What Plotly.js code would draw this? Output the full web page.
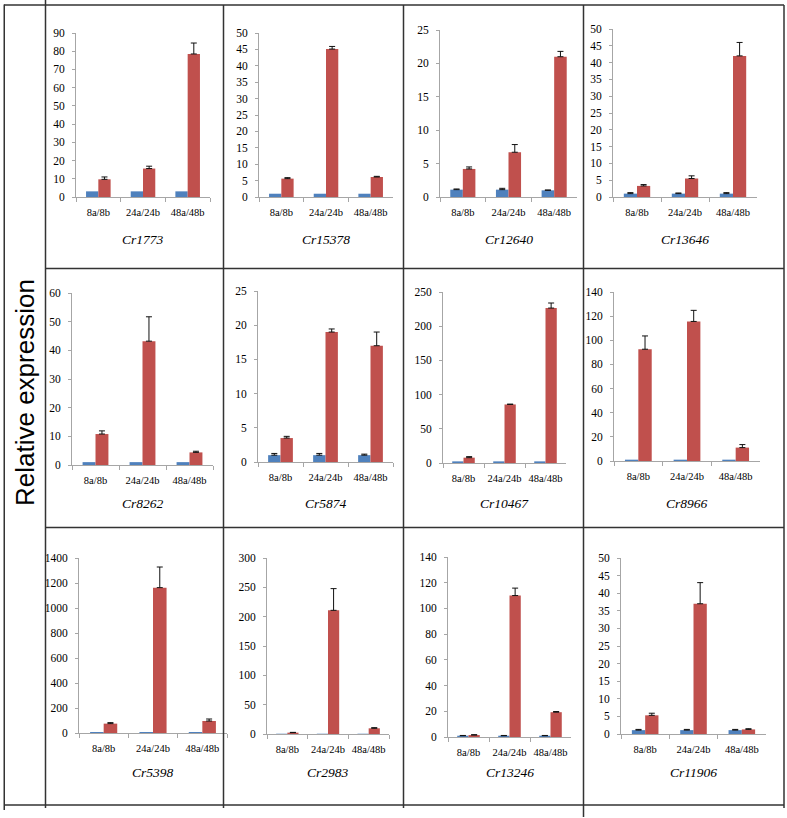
<!DOCTYPE html>
<html><head><meta charset="utf-8">
<script src="https://cdn.plot.ly/plotly-3.0.1.min.js"></script>
<style>html,body{margin:0;padding:0;background:#fff;overflow:hidden;} #chart{width:787px;height:818px;}</style>
</head><body><div id="chart"></div>
<script>
// ---------- data ----------
const categories = ['8a/8b', '24a/24b', '48a/48b'];
const genes = ['Cr1773','Cr15378','Cr12640','Cr13646','Cr8262','Cr5874','Cr10467','Cr8966','Cr5398','Cr2983','Cr13246','Cr11906'];
const blueValues = [
  [3.1,3.1,3.1],[1,1,1],[1.1,1.1,1.0],[1.0,1.0,1.0],
  [1,1,1],[1.0,1.0,1.0],[2.4,2.4,2.4],[1.1,1.1,1.1],
  [8,8,8],[0.5,0.5,0.5],[1,1,1],[1.1,1.1,1.1]
];
const blueErrors = [
  [0,0,0],[0,0,0],[0.1,0.2,0.05],[0.3,0.2,0.3],
  [0,0,0],[0.25,0.25,0.15],[0,0,0],[0,0,0],
  [0,0,0],[0,0,0],[0.2,0.2,0.2],[0.2,0.2,0.2]
];
const redValues = [
  [9.7,15.6,78.5],[5.6,45.1,6.1],[4.2,6.7,21.0],[3.3,5.5,42.0],
  [10.8,43.2,4.4],[3.5,19.0,17.0],[7.8,85.6,226.5],[92.6,115.6,11.1],
  [75,1163,96],[2.3,210.8,9.7],[1.5,110,19.3],[5.3,37.0,1.3]
];
const redErrors = [
  [1.3,1.3,6.0],[0.3,0.8,0.2],[0.3,1.15,0.8],[0.4,0.8,4.0],
  [1.1,8.5,0.4],[0.25,0.45,2.0],[1.5,0.5,7.4],[11,9.2,2.5],
  [8,165,16],[0.5,37,1.1],[0.3,5.8,0.5],[0.6,6.0,0.2]
];
const yMax  = [90,50,25,50, 60,25,250,140, 1400,300,140,50];
const yStep = [10,5,5,5, 10,5,50,20, 200,50,20,5];
const yLabel = 'Relative expression';

// ---------- layout geometry (pixels) ----------
const W = 787, H = 818;
// [xLeft, xRight, yTop, yBottom]
const panelBoxes = [
  [76,210,33,197],[259,393,33,197],[440,577,30,197],[613,757,29,197],
  [72,213,293,465],[258,393,291,462],[443,566,292,463],[614,760,292,461],
  [79,227,558,733],[267,389,558,734],[448,571,557,737],[621,766,558,734]
];
const geneLabelY = [239,239,239,239, 504,504,504,504, 772,772,772,772];

const px = x => x / W;
const py = y => 1 - y / H;

const blue = '#4F81BD', red = '#C0504D';
const serif = '"Liberation Serif", "Times New Roman", serif';

const data = [];
const layout = {
  width: W, height: H,
  margin: {l:0, r:0, t:0, b:0},
  paper_bgcolor: '#fff', plot_bgcolor: 'rgba(0,0,0,0)',
  showlegend: false,
  barmode: 'group', bargap: 0.45, bargroupgap: 0,
  annotations: [], shapes: []
};

genes.forEach((g, i) => {
  const n = i + 1;
  const xa = n === 1 ? 'x' : 'x' + n;
  const ya = n === 1 ? 'y' : 'y' + n;
  const xk = n === 1 ? 'xaxis' : 'xaxis' + n;
  const yk = n === 1 ? 'yaxis' : 'yaxis' + n;
  const b = panelBoxes[i];
  const blueHasErr = blueErrors[i].some(v => v > 0);
  data.push({
    type: 'bar', x: categories, y: blueValues[i], xaxis: xa, yaxis: ya,
    marker: {color: blue, line: {width: 0}},
    error_y: {type: 'data', symmetric: false, array: blueErrors[i], arrayminus: [0,0,0],
              visible: blueHasErr, color: '#111', thickness: 1, width: 3},
    hoverinfo: 'skip'
  });
  data.push({
    type: 'bar', x: categories, y: redValues[i], xaxis: xa, yaxis: ya,
    marker: {color: red, line: {width: 0}},
    error_y: {type: 'data', symmetric: false, array: redErrors[i], arrayminus: [0,0,0],
              color: '#111', thickness: 1, width: 3},
    hoverinfo: 'skip'
  });
  layout[xk] = {
    domain: [px(b[0]), px(b[1])], anchor: ya,
    type: 'category', categoryorder: 'array', categoryarray: categories,
    range: [-0.5, 2.5], fixedrange: true,
    showline: true, linecolor: '#a6a6a6', linewidth: 1,
    ticks: 'outside', tickson: 'boundaries', ticklen: 4, tickcolor: '#a6a6a6',
    showgrid: false, zeroline: false, tickangle: 0,
    tickfont: {family: serif, size: 10.5, color: '#000'},
    ticklabelstandoff: 5
  };
  layout[yk] = {
    domain: [py(b[3]), py(b[2])], anchor: xa,
    range: [0, yMax[i]], tickmode: 'linear', tick0: 0, dtick: yStep[i],
    fixedrange: true,
    showline: true, linecolor: '#a6a6a6', linewidth: 1,
    ticks: 'outside', ticklen: 3, tickcolor: '#a6a6a6',
    showgrid: false, zeroline: false,
    tickfont: {family: serif, size: 11.5, color: '#000'},
    ticklabelstandoff: 5
  };
  layout.annotations.push({
    xref: 'paper', yref: 'paper', x: px((b[0] + b[1]) / 2), y: py(geneLabelY[i]),
    xanchor: 'center', yanchor: 'middle', showarrow: false,
    text: '<i>' + g + '</i>', font: {family: serif, size: 13.5, color: '#000'}
  });
});

layout.annotations.push({
  xref: 'paper', yref: 'paper', x: px(25), y: py(393),
  xanchor: 'center', yanchor: 'middle', showarrow: false, textangle: -90,
  text: yLabel, font: {family: '"Liberation Sans", Arial, sans-serif', size: 26, color: '#000'}
});

// table grid lines (pixels): [x0, y0, x1, y1]
const gridLines = [
  [4,5,784,5],            // top
  [45,268.5,784,268.5],   // row separator
  [45,527.5,784,527.5],   // row separator
  [4,805,784,805],        // bottom
  [45.5,0,45.5,808],      // label column
  [223.5,5,223.5,808],
  [403.5,5,403.5,808],
  [583.5,5,583.5,817],
  [784,5,784,808]         // outer right
];
gridLines.forEach(l => layout.shapes.push({
  type: 'line', xref: 'paper', yref: 'paper', layer: 'above',
  x0: px(l[0]), y0: py(l[1]), x1: px(l[2]), y1: py(l[3]),
  line: {color: '#333', width: 1.5}
}));
// outer left border as a thin filled strip
layout.shapes.push({
  type: 'rect', xref: 'paper', yref: 'paper', layer: 'above',
  x0: px(3.5), x1: px(5), y0: py(4.5), y1: py(810),
  fillcolor: '#333', line: {width: 0}
});

Plotly.newPlot('chart', data, layout, {staticPlot: true, displayModeBar: false});
</script>
</body></html>
